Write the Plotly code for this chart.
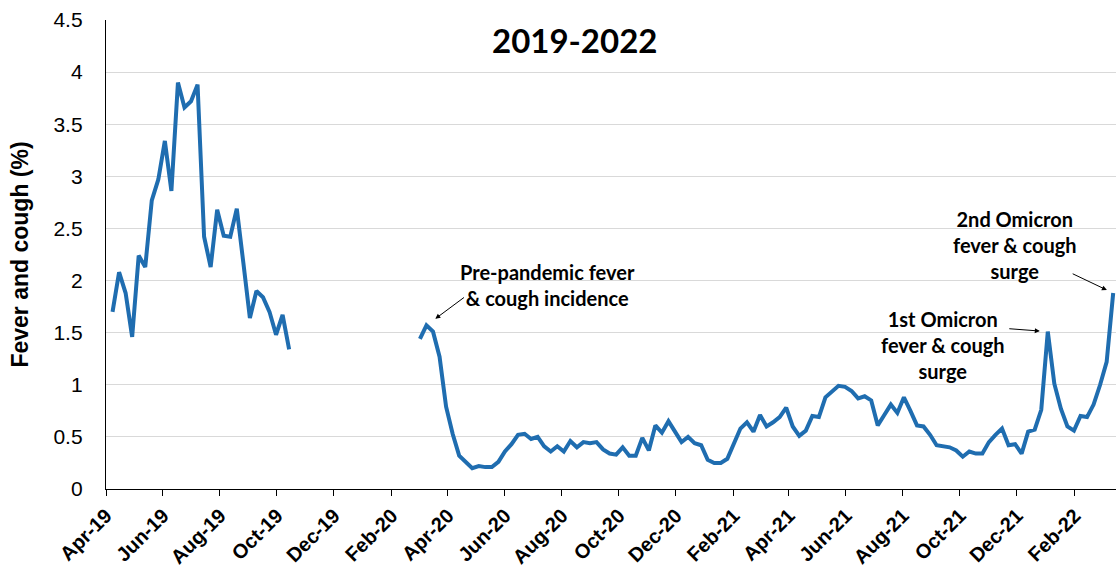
import plotly.graph_objects as go
import pandas as pd

# Weekly fever & cough incidence (%)
pre_start = "2019-04-08"
pre_values = [1.70, 2.08, 1.88, 1.46, 2.24, 2.13, 2.77, 2.97, 3.34, 2.86,
              3.90, 3.66, 3.72, 3.88, 2.42, 2.13, 2.68, 2.43, 2.42, 2.69,
              2.17, 1.64, 1.90, 1.84, 1.70, 1.48, 1.67, 1.34]

pan_start = "2020-03-02"
pan_values = [1.44, 1.57, 1.51, 1.27, 0.79, 0.53, 0.32, 0.26, 0.20, 0.22,
              0.21, 0.21, 0.26, 0.36, 0.43, 0.52, 0.53, 0.48, 0.50, 0.41,
              0.36, 0.41, 0.36, 0.46, 0.40, 0.45, 0.44, 0.45, 0.38, 0.34,
              0.33, 0.40, 0.32, 0.32, 0.49, 0.37, 0.61, 0.54, 0.65, 0.55,
              0.45, 0.50, 0.44, 0.42, 0.28, 0.25, 0.25, 0.29, 0.44, 0.58,
              0.64, 0.55, 0.71, 0.60, 0.64, 0.69, 0.78, 0.60, 0.51, 0.56,
              0.70, 0.69, 0.88, 0.94, 0.99, 0.98, 0.94, 0.87, 0.89, 0.85,
              0.61, 0.71, 0.81, 0.73, 0.88, 0.75, 0.61, 0.60, 0.52, 0.42,
              0.41, 0.40, 0.37, 0.31, 0.36, 0.34, 0.34, 0.45, 0.52, 0.58,
              0.42, 0.43, 0.34, 0.55, 0.57, 0.76, 1.51, 1.01, 0.77, 0.60,
              0.56, 0.70, 0.69, 0.81, 1.00, 1.22, 1.88]

title_text = "2019-2022"
y_title = "Fever and cough (%)"
note_pre = "Pre-pandemic fever<br>& cough incidence"
note_om1 = "1st Omicron<br>fever & cough<br>surge"
note_om2 = "2nd Omicron<br>fever & cough<br>surge"

pre_dates = pd.date_range(pre_start, periods=len(pre_values), freq="7D")
pan_dates = pd.date_range(pan_start, periods=len(pan_values), freq="7D")

# Join the two segments with a gap (None) between them
gap_date = pre_dates[-1] + pd.Timedelta(days=7)
dates = list(pre_dates) + [gap_date] + list(pan_dates)
values = pre_values + [None] + pan_values

line_color = "#1f6db0"

fig = go.Figure()
fig.add_trace(go.Scatter(
    x=dates, y=values, mode="lines",
    line=dict(color=line_color, width=4),
    connectgaps=False, showlegend=False, hoverinfo="x+y",
))

ann_font = dict(family="Lato, Open Sans, sans-serif", size=20, color="#000000")

annotations = [
    dict(text="<b>%s</b>" % title_text, xref="paper", yref="paper",
         x=0.464, y=0.957, xanchor="center", yanchor="middle", showarrow=False,
         font=dict(family="Lato, Open Sans, sans-serif", size=33, color="#000000")),
    dict(text="<b>%s</b>" % note_pre, xref="paper", yref="paper",
         x=0.4376, y=0.435, xanchor="center", yanchor="middle", showarrow=False,
         font=ann_font),
    dict(text="<b>%s</b>" % note_om1, xref="paper", yref="paper",
         x=0.829, y=0.307, xanchor="center", yanchor="middle", showarrow=False,
         font=ann_font),
    dict(text="<b>%s</b>" % note_om2, xref="paper", yref="paper",
         x=0.900, y=0.520, xanchor="center", yanchor="middle", showarrow=False,
         font=ann_font),
]

# Arrows pointing at the marked peaks
peak_pre = max(range(len(pan_values[:5])), key=lambda i: pan_values[i])
peak_om1 = max(range(90, 100), key=lambda i: pan_values[i])
peak_om2 = len(pan_values) - 1
arrow_specs = [(peak_pre, 39, -29, 11), (peak_om1, -40, -3, 8), (peak_om2, -42, -20, 7)]
for idx, ax, ay, so in arrow_specs:
    annotations.append(dict(
        x=pan_dates[idx], y=pan_values[idx], xref="x", yref="y", text="",
        showarrow=True, ax=ax, ay=ay, axref="pixel", ayref="pixel",
        arrowhead=2, arrowsize=1, arrowwidth=1, arrowcolor="#000000", standoff=so,
    ))

fig.update_layout(
    width=1116, height=569,
    margin=dict(l=106, r=0, t=20, b=80),
    paper_bgcolor="white", plot_bgcolor="white",
    annotations=annotations,
    showlegend=False,
)

fig.update_xaxes(
    type="date",
    range=["2019-04-01", "2022-03-17"],
    tick0="2019-04-01", dtick="M2", tickformat="%b-%y",
    tickangle=-45,
    ticks="outside", ticklen=6, tickcolor="#000000", tickwidth=1,
    showline=True, linecolor="#000000", linewidth=1.3,
    showgrid=False, zeroline=False,
    tickfont=dict(family="Liberation Sans, Arial, sans-serif", size=20, color="#000000", weight="bold"),
)

fig.update_yaxes(
    range=[0, 4.5], dtick=0.5, tick0=0,
    showline=True, linecolor="#000000", linewidth=1.3,
    showgrid=True, gridcolor="#d9d9d9", gridwidth=1,
    zeroline=False, ticks="",
    ticklabelstandoff=18,
    tickfont=dict(family="Liberation Sans Narrow, Liberation Sans, Arial, sans-serif", size=21, color="#000000"),
    title=dict(text="<b>%s</b>" % y_title, standoff=18,
               font=dict(family="Liberation Sans, Arial, sans-serif", size=23, color="#000000")),
)

fig.write_html(
    "out.html",
    config={"displayModeBar": False},
    post_script="document.body.style.margin='0';document.body.style.overflow='hidden';",
)
